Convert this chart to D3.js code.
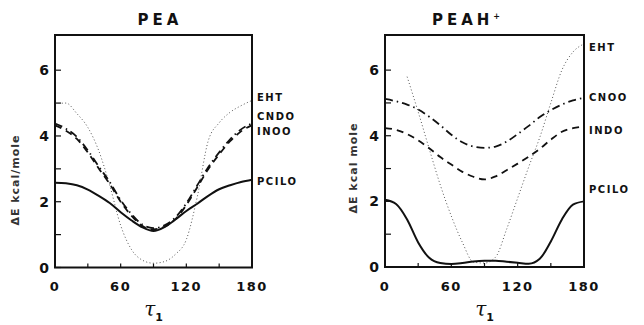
<!DOCTYPE html>
<html>
<head>
<meta charset="utf-8">
<script src="https://cdn.jsdelivr.net/npm/d3@7"></script>
<style>
  body { margin: 0; background: #fff; }
  text { font-family: "DejaVu Sans", sans-serif; font-weight: bold; fill: #111; }
</style>
</head>
<body>
<svg id="chart" width="644" height="325"></svg>
<script>
// torsion angle tau1, degrees
var tau = [0, 10, 20, 30, 40, 50, 60, 70, 80, 90, 100, 110, 120, 130, 140, 150, 160, 170, 180];

// PEA, delta E in kcal/mole
var peaEHT   = [4.98, 5.0, 4.68, 4.26, 3.55, 2.5, 1.28, 0.54, 0.22, 0.13, 0.18, 0.4, 0.85, 2.15, 3.85, 4.4, 4.72, 4.92, 5.08];
var peaCNDO  = [4.38, 4.22, 3.97, 3.56, 3.07, 2.6, 2.05, 1.62, 1.3, 1.2, 1.28, 1.52, 1.95, 2.5, 3.05, 3.5, 3.9, 4.2, 4.38];
var peaINDO  = [4.32, 4.16, 3.91, 3.5, 3.01, 2.54, 2.0, 1.57, 1.26, 1.16, 1.24, 1.47, 1.9, 2.44, 2.99, 3.44, 3.84, 4.14, 4.33];
var peaPCILO = [2.58, 2.56, 2.5, 2.37, 2.18, 1.96, 1.68, 1.43, 1.22, 1.11, 1.23, 1.46, 1.72, 1.94, 2.18, 2.38, 2.5, 2.6, 2.67];

// PEAH+, delta E in kcal/mole (EHT not drawn below tau1 = 20)
var peahEHT   = [null, null, 5.8, 4.73, 3.6, 2.5, 1.55, 0.75, 0.15, 0.12, 0.3, 1.15, 2.1, 3.05, 3.95, 5.0, 6.0, 6.55, 6.8];
var peahCNDO  = [5.12, 5.05, 4.95, 4.8, 4.58, 4.32, 4.03, 3.8, 3.67, 3.63, 3.67, 3.82, 4.05, 4.3, 4.57, 4.78, 4.95, 5.08, 5.15];
var peahINDO  = [4.23, 4.18, 4.05, 3.86, 3.62, 3.35, 3.12, 2.9, 2.75, 2.67, 2.76, 2.95, 3.15, 3.36, 3.6, 3.88, 4.12, 4.23, 4.28];
var peahPCILO = [2.05, 1.92, 1.45, 0.75, 0.28, 0.12, 0.09, 0.12, 0.17, 0.19, 0.19, 0.16, 0.13, 0.1, 0.25, 0.78, 1.45, 1.9, 2.0];

// axis ticks
var xTicks = [0, 30, 60, 90, 120, 150, 180];
var xTickLabels = [0, 60, 120, 180];
var yTicks = [0, 1, 2, 3, 4, 5, 6];
var yTickLabels = [0, 2, 4, 6];

var svg = d3.select("#chart");
svg.append("rect").attr("width", 644).attr("height", 325).attr("fill", "#fff");

var styles = {
  EHT:   { dash: "1,2.4", width: 1, color: "#555" },
  CNDO:  { dash: "8,4,1.5,4", width: 1.8, color: "#111" },
  INDO:  { dash: "7,5", width: 1.8, color: "#111" },
  PCILO: { dash: null, width: 2, color: "#111" }
};

function drawPanel(p) {
  var x = d3.scaleLinear().domain([0, 180]).range([p.left, p.right]);
  var y = d3.scaleLinear().domain([0, 7.07]).range([p.bottom, p.top]);
  var g = svg.append("g");

  // ticks inside the frame
  g.selectAll(".yt").data(yTicks).enter().append("line")
    .attr("x1", p.left).attr("x2", p.left + 6)
    .attr("y1", function(d) { return y(d); }).attr("y2", function(d) { return y(d); })
    .attr("stroke", "#111").attr("stroke-width", 1.2);
  g.selectAll(".xt").data(xTicks).enter().append("line")
    .attr("x1", function(d) { return x(d); }).attr("x2", function(d) { return x(d); })
    .attr("y1", p.bottom).attr("y2", p.bottom - 4)
    .attr("stroke", "#111").attr("stroke-width", 1.2);

  // tick labels
  g.selectAll(".yl").data(yTickLabels).enter().append("text")
    .attr("x", p.left - 6)
    .attr("y", function(d) { return y(d) + 5; })
    .attr("text-anchor", "end")
    .style("font-size", "14px")
    .text(function(d) { return d; });
  g.selectAll(".xl").data(xTickLabels).enter().append("text")
    .attr("x", function(d) { return x(d); })
    .attr("y", 291)
    .attr("text-anchor", "middle")
    .style("font-size", "13px")
    .style("letter-spacing", "1.5px")
    .text(function(d) { return d; });

  // curves
  var line = d3.line()
    .defined(function(d) { return d[1] != null; })
    .x(function(d) { return x(d[0]); })
    .y(function(d) { return y(d[1]); })
    .curve(d3.curveMonotoneX);

  p.series.forEach(function(s) {
    var st = styles[s.key];
    g.append("path")
      .datum(tau.map(function(t, i) { return [t, s.values[i]]; }))
      .attr("d", line)
      .attr("fill", "none")
      .attr("stroke", st.color)
      .attr("stroke-width", st.width)
      .attr("stroke-dasharray", st.dash);
    g.append("text")
      .attr("x", p.right + 5)
      .attr("y", s.labelY)
      .style("font-size", "10px")
      .style("letter-spacing", "1.5px")
      .text(s.label);
  });

  // frame
  g.append("rect")
    .attr("x", p.left).attr("y", p.top)
    .attr("width", p.right - p.left).attr("height", p.bottom - p.top)
    .attr("fill", "none").attr("stroke", "#111").attr("stroke-width", 2);

  // title
  var title = g.append("text")
    .attr("x", p.titleX).attr("y", 25)
    .attr("text-anchor", "middle")
    .style("font-size", "15px")
    .style("letter-spacing", "4px")
    .text(p.title);
  if (p.sup) {
    title.append("tspan").attr("dy", -6).style("font-size", "8px").text(p.sup);
  }

  // y label
  g.append("text")
    .attr("transform", "translate(" + p.yLabelX + "," + p.yLabelY + ")rotate(-90)")
    .attr("text-anchor", "middle")
    .style("font-size", "11px")
    .style("letter-spacing", "1px")
    .style("fill", "#333")
    .text(p.yLabel);

  // x label
  var xl = g.append("text")
    .attr("x", (p.left + p.right) / 2).attr("y", 316)
    .attr("text-anchor", "middle")
    .style("font-family", "'DejaVu Serif', serif")
    .style("font-style", "italic")
    .style("font-weight", "normal")
    .style("font-size", "20px")
    .text("τ");
  xl.append("tspan").attr("dy", 5)
    .style("font-family", "'DejaVu Sans', sans-serif")
    .style("font-style", "normal")
    .style("font-weight", "bold")
    .style("font-size", "11px")
    .text("1");
}

drawPanel({
  left: 55, right: 252, top: 35, bottom: 267.5,
  title: "PEA", titleX: 160,
  yLabel: "ΔE kcal/mole", yLabelX: 19, yLabelY: 180,
  series: [
    { key: "EHT", values: peaEHT, label: "EHT", labelY: 101 },
    { key: "CNDO", values: peaCNDO, label: "CNDO", labelY: 120 },
    { key: "INDO", values: peaINDO, label: "INOO", labelY: 135 },
    { key: "PCILO", values: peaPCILO, label: "PCILO", labelY: 185 }
  ]
});

drawPanel({
  left: 385, right: 584, top: 35, bottom: 267,
  title: "PEAH", sup: "+", titleX: 468,
  yLabel: "ΔE kcal mole", yLabelX: 357, yLabelY: 168,
  series: [
    { key: "EHT", values: peahEHT, label: "EHT", labelY: 51 },
    { key: "CNDO", values: peahCNDO, label: "CNOO", labelY: 101 },
    { key: "INDO", values: peahINDO, label: "INDO", labelY: 134 },
    { key: "PCILO", values: peahPCILO, label: "PCILO", labelY: 193 }
  ]
});
</script>
</body>
</html>
